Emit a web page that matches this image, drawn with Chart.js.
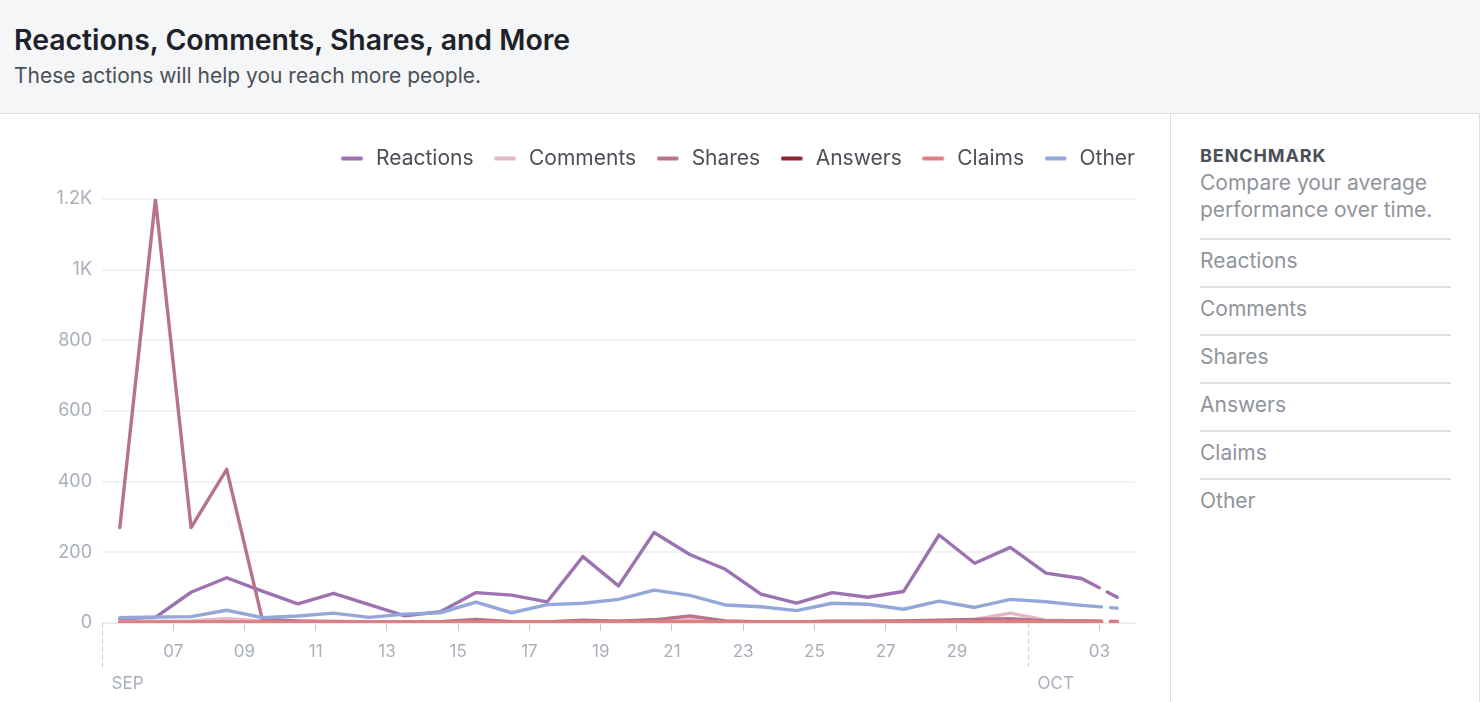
<!DOCTYPE html>
<html>
<head>
<meta charset="utf-8">
<script src="https://cdn.jsdelivr.net/npm/chart.js@4/dist/chart.umd.min.js"></script>
<style>
  html, body { margin: 0; padding: 0; background: #ffffff; width: 1480px; height: 702px; overflow: hidden; font-family: Inter, "Helvetica Neue", Helvetica, Arial, sans-serif; }
  #header { position: absolute; left: 0; top: 0; width: 1480px; height: 113px; background: #f5f6f7; border-bottom: 1px solid #dddfe2; }
  #title { position: absolute; left: 14px; top: 26px; font-size: 28.4px; line-height: 28px; font-weight: 600; color: #1d2129; white-space: nowrap; }
  #subtitle { position: absolute; left: 14px; top: 66px; font-size: 21px; line-height: 20px; font-weight: 400; color: #4b4f56; white-space: nowrap; }
  #chartWrap { position: absolute; left: 0; top: 114px; width: 1170px; height: 588px; }
  #side { position: absolute; left: 1170px; top: 114px; width: 308px; height: 588px; border-left: 1px solid #dddfe2; border-right: 1px solid #dddfe2; }
  #bench { position: absolute; left: 29px; top: 33px; font-size: 18px; line-height: 17px; font-weight: 700; color: #4b4f56; letter-spacing: 0.9px; }
  #benchDesc { position: absolute; left: 29px; top: 55px; width: 270px; font-size: 21px; line-height: 27px; color: #90949c; }
  .item { position: absolute; left: 29px; width: 251px; height: 48px; border-top: 2px solid #dddfe2; font-size: 21px; line-height: 42px; color: #90949c; }
</style>
</head>
<body>
<div id="header">
  <div id="title">Reactions, Comments, Shares, and More</div>
  <div id="subtitle">These actions will help you reach more people.</div>
</div>
<div id="chartWrap"><canvas id="c" width="1170" height="588"></canvas></div>
<div id="side">
  <div id="bench">BENCHMARK</div>
  <div id="benchDesc">Compare your average performance over time.</div>
  <div class="item" style="top:124px">Reactions</div>
  <div class="item" style="top:172px">Comments</div>
  <div class="item" style="top:220px">Shares</div>
  <div class="item" style="top:268px">Answers</div>
  <div class="item" style="top:316px">Claims</div>
  <div class="item" style="top:364px">Other</div>
</div>
<script>
// Days from Sep 5 to Oct 3 (one value per day)
const dates = ['Sep 05','Sep 06','Sep 07','Sep 08','Sep 09','Sep 10','Sep 11','Sep 12','Sep 13','Sep 14',
               'Sep 15','Sep 16','Sep 17','Sep 18','Sep 19','Sep 20','Sep 21','Sep 22','Sep 23','Sep 24',
               'Sep 25','Sep 26','Sep 27','Sep 28','Sep 29','Sep 30','Oct 01','Oct 02','Oct 03'];

const reactions = [12,16,87,128,90,54,84,52,20,32,86,79,60,188,105,256,194,152,82,56,86,73,89,249,169,214,141,126,73];
const comments  = [4,5,6,12,6,4,5,3,3,4,6,3,3,6,5,8,10,5,3,3,5,5,6,6,10,28,8,6,5];
const shares    = [270,1200,270,435,10,6,4,3,3,4,10,4,3,8,5,9,20,6,3,3,5,5,6,8,10,12,6,6,4];
const answers   = [1,1,1,1,1,1,1,1,1,1,1,1,1,1,1,1,1,1,1,1,1,1,1,1,1,1,1,1,1];
const claims    = [3,3,3,4,3,3,3,2,2,2,3,2,2,3,3,3,4,3,2,2,3,3,3,3,4,5,3,3,3];
const other     = [15,17,18,36,15,20,28,16,25,29,59,29,52,56,67,93,78,51,46,35,56,53,39,62,44,67,60,50,42];

const seriesNames  = ['Reactions','Comments','Shares','Answers','Claims','Other'];
const seriesColors = ['#9c72b0','#e3b7c7','#b5748c','#8b2430','#de7f81','#93a8d8'];

// x tick positions are in days counted from Sep 05 00:00
const xTickDays   = [0,2,4,6,8,10,12,14,16,18,20,22,24,26,28];
const xTickLabels = ['','07','09','11','13','15','17','19','21','23','25','27','29','','03'];
const monthStartDays = [0, 26];
const monthLabels    = ['SEP','OCT'];

const yTickValues = [0,200,400,600,800,1000,1200];
const yTickLabels = ['0','200','400','600','800','1K','1.2K'];

const allSeries = [reactions, comments, shares, answers, claims, other];
const lastIdx = dates.length - 1;
const drawOrder = [6,5,4,3,2,1];

const datasets = allSeries.map((vals, s) => ({
  label: seriesNames[s],
  data: vals.map((v, i) => ({ x: i + 0.5, y: v })),
  borderColor: seriesColors[s],
  backgroundColor: seriesColors[s],
  borderWidth: 3.4,
  pointRadius: 0,
  pointHoverRadius: 0,
  tension: 0,
  fill: false,
  borderCapStyle: 'round',
  borderJoinStyle: 'round',
  order: drawOrder[s],
  segment: {
    borderDash: ctx => ctx.p1DataIndex === lastIdx ? [20, 9] : undefined
  }
}));

const tickColor = '#a9afba';
const fontFam = 'Inter, "Helvetica Neue", Arial, sans-serif';

// legend marker: short rounded line, drawn on a small canvas (left part), leaving a gap before the text
function legendMarker(color) {
  const cv = document.createElement('canvas');
  cv.width = 26; cv.height = 8;
  const g = cv.getContext('2d');
  g.strokeStyle = color;
  g.lineWidth = 4;
  g.lineCap = 'round';
  g.beginPath();
  g.moveTo(2, 4);
  g.lineTo(20, 4);
  g.stroke();
  return cv;
}
const legendMarkers = seriesColors.map(legendMarker);

const monthPlugin = {
  id: 'monthMarks',
  afterDraw(chart) {
    const xs = chart.scales.x;
    const ctx = chart.ctx;
    const bottom = chart.chartArea.bottom;
    ctx.save();
    monthStartDays.forEach((d, k) => {
      const px = Math.round(xs.getPixelForValue(d)) + 0.5;
      ctx.strokeStyle = '#c8ccd2';
      ctx.lineWidth = 1;
      ctx.setLineDash([4, 4]);
      ctx.beginPath();
      ctx.moveTo(px, bottom);
      ctx.lineTo(px, bottom + 48);
      ctx.stroke();
      ctx.setLineDash([]);
      ctx.fillStyle = tickColor;
      ctx.font = '17px ' + fontFam;
      ctx.textAlign = 'left';
      ctx.textBaseline = 'middle';
      ctx.fillText(monthLabels[k], px + 9, bottom + 61);
    });
    ctx.restore();
  }
};

const legendSpacer = {
  id: 'legendSpacer',
  beforeInit(chart) {
    const origFit = chart.legend.fit;
    chart.legend.fit = function () {
      origFit.bind(chart.legend)();
      this.height += 20;
    };
  },
  afterLayout(chart) {
    // align legend's last item with the plot's right edge (remove trailing item padding)
    chart.legend.left += 22;
    chart.legend.right += 22;
  }
};

const chart = new Chart(document.getElementById('c'), {
  type: 'line',
  data: { datasets },
  options: {
    responsive: false,
    animation: false,
    events: [],
    layout: { padding: { top: 12, right: 35, bottom: 0, left: 0 } },
    plugins: {
      tooltip: { enabled: false },
      legend: {
        display: true,
        position: 'top',
        align: 'end',
        labels: {
          usePointStyle: true,
          pointStyleWidth: 23,
          color: '#4b4f56',
          padding: 22,
          font: { size: 21, family: fontFam },
          sort: (a, b) => a.datasetIndex - b.datasetIndex,
          generateLabels: (chart) => {
            const items = Chart.defaults.plugins.legend.labels.generateLabels(chart);
            items.forEach(it => { it.pointStyle = legendMarkers[it.datasetIndex]; it.lineDash = []; });
            return items;
          }
        }
      }
    },
    scales: {
      x: {
        type: 'linear',
        min: 0,
        max: dates.length,
        afterFit: s => { s.height = 79; },
        afterBuildTicks: s => { s.ticks = xTickDays.map(v => ({ value: v })); },
        grid: {
          drawOnChartArea: false,
          drawTicks: true,
          tickLength: 8,
          color: ctx => (ctx.tick && xTickLabels[xTickDays.indexOf(ctx.tick.value)] === '') ? 'rgba(0,0,0,0)' : '#c8ccd2'
        },
        border: { display: true, color: '#e6e8eb', width: 1 },
        ticks: {
          autoSkip: false,
          maxRotation: 0,
          padding: 11,
          color: tickColor,
          font: { size: 17, family: fontFam },
          callback: (v) => { const k = xTickDays.indexOf(v); return k >= 0 ? xTickLabels[k] : ''; }
        }
      },
      y: {
        min: 0,
        max: 1200,
        afterFit: s => { s.width = 102; },
        afterBuildTicks: s => { s.ticks = yTickValues.map(v => ({ value: v })); },
        grid: { drawTicks: false, color: '#f1f2f4', lineWidth: 2 },
        border: { display: false },
        ticks: {
          padding: 10,
          color: tickColor,
          font: { size: 18, family: fontFam },
          callback: (v) => { const k = yTickValues.indexOf(v); return k >= 0 ? yTickLabels[k] : ''; }
        }
      }
    }
  },
  plugins: [monthPlugin, legendSpacer]
});
</script>
</body>
</html>
